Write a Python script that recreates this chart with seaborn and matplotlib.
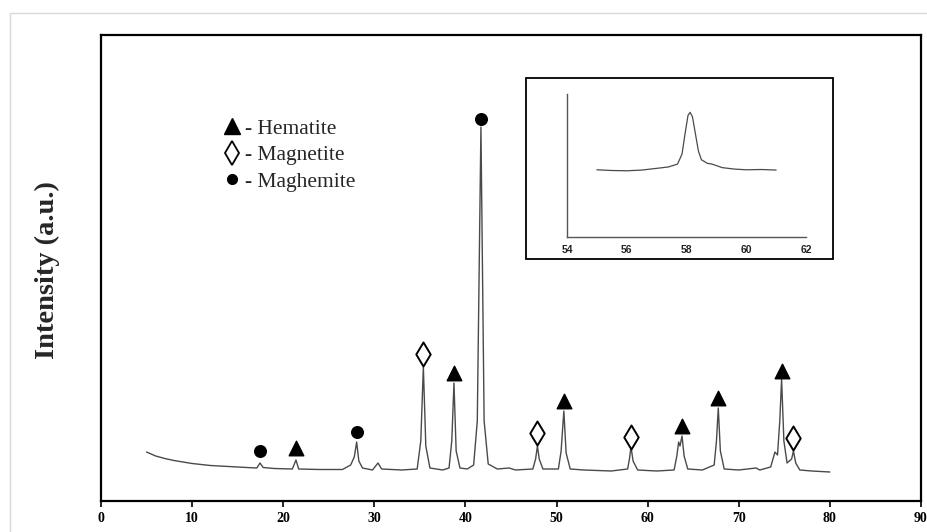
import numpy as np
import pandas as pd
import matplotlib
matplotlib.use("Agg")
import matplotlib.pyplot as plt
from matplotlib.lines import Line2D
from matplotlib.patches import Rectangle
import seaborn as sns

# ---------------- data ----------------
two_theta = [5.0, 6.0, 7.0, 8.0, 10.0, 12.0, 14.0, 16.0, 17.1, 17.45, 17.8, 19.0,
             21.0, 21.4, 21.7, 24.0, 26.5, 27.4, 27.8, 28.06, 28.3, 28.7, 29.8,
             30.4, 30.8, 33.0, 34.7, 35.1, 35.38, 35.65, 36.1, 37.5, 38.2, 38.5,
             38.74, 38.98, 39.4, 40.2, 40.9, 41.3, 41.7, 42.05, 42.5, 43.5, 44.8,
             45.5, 47.4, 47.7, 47.9, 48.1, 48.5, 50.2, 50.5, 50.8, 51.05, 51.5,
             53.0, 56.0, 57.8, 58.0, 58.17, 58.4, 58.9, 61.0, 62.9, 63.2, 63.4,
             63.55, 63.77, 64.0, 64.4, 66.0, 67.3, 67.55, 67.75, 67.98, 68.4,
             70.0, 71.9, 72.3, 73.5, 73.97, 74.25, 74.5, 74.7, 74.95, 75.3, 75.8,
             76.0, 76.25, 76.7, 78.0, 80.0]
intensity = [49, 45, 42.5, 40.5, 37.5, 35.5, 34.5, 33.5, 33, 38, 33.5, 32.5,
             32, 41, 32, 31.5, 31.5, 36, 44, 59, 40, 33, 31,
             38, 32, 31, 32, 60, 134, 55, 33, 31, 33, 60,
             118, 50, 33, 32, 36, 80, 374, 80, 37, 32, 33,
             31, 32, 42, 55, 42, 32, 32, 50, 90, 48, 32,
             31, 30, 32, 42, 54, 40, 31, 30, 31, 45, 59,
             55, 65, 45, 32, 31, 36, 60, 93, 50, 32,
             31, 33, 31, 34, 49, 46, 80, 122, 60, 38, 42,
             50, 38, 31, 30, 29]

hematite_x = [21.4, 38.74, 50.8, 63.77, 67.75, 74.7]
hematite_y = [53, 128, 100, 75, 103, 130]
magnetite_x = [35.38, 47.9, 58.17, 76.0]
magnetite_y = [147, 68, 64, 63]
maghemite_x = [17.45, 28.06, 41.7]
maghemite_y = [50, 69, 382]

inset_x = [55.0, 55.5, 56.0, 56.5, 57.0, 57.4, 57.7, 57.85, 57.95, 58.05, 58.12,
           58.2, 58.3, 58.4, 58.5, 58.7, 58.85, 59.2, 59.6, 60.0, 60.5, 61.0]
inset_y = [0.47, 0.465, 0.463, 0.468, 0.48, 0.49, 0.51, 0.58, 0.72, 0.85, 0.872,
           0.84, 0.72, 0.60, 0.54, 0.515, 0.51, 0.485, 0.475, 0.47, 0.472, 0.468]

x_ticks = [0, 10, 20, 30, 40, 50, 60, 70, 80, 90]
inset_ticks = [54, 56, 58, 60, 62]
legend_labels = ["- Hematite", "- Magnetite", "- Maghemite"]
y_label = "Intensity (a.u.)"

# ---------------- figure ----------------
sns.set_style("white")
plt.rcParams["font.family"] = ["Liberation Serif", "DejaVu Serif"]

W, H = 927, 532
fig = plt.figure(figsize=(W / 100, H / 100), dpi=100)

# light page border
fig.patches.append(Rectangle((10 / W, -0.05), 1.2, 1 - 13 / H + 0.05,
                             transform=fig.transFigure, fill=False,
                             edgecolor="#d9d9d9", lw=1.0, zorder=0))

ax = fig.add_axes([101 / W, 1 - 501 / H, (921 - 101) / W, (501 - 35) / H])
df = pd.DataFrame({"two_theta": two_theta, "intensity": intensity})
sns.lineplot(data=df, x="two_theta", y="intensity", ax=ax, color="#4a4a4a",
             lw=1.0, estimator=None, sort=False)

ax.scatter(hematite_x, hematite_y, marker="^", s=110, color="black", zorder=3)
ax.scatter(magnetite_x, magnetite_y, marker="d", s=150, facecolor="white",
           edgecolor="black", linewidths=1.4, zorder=3)
ax.scatter(maghemite_x, maghemite_y, marker="o", s=70, color="black", zorder=3)

ax.set_xlim(0, 90)
ax.set_ylim(0, 466)
ax.set_xticks(x_ticks)
ax.set_xticklabels([str(t) for t in x_ticks], fontweight="bold", fontsize=10)
ax.set_yticks([])
ax.set_xlabel("")
ax.set_ylabel("")
ax.tick_params(axis="x", direction="out", length=4, width=1.2, pad=4,
               bottom=True, colors="black")
for s in ax.spines.values():
    s.set_linewidth(1.6)
    s.set_color("black")

fig.text(47 / W, 1 - 270 / H, y_label, rotation=90, ha="center", va="center",
         fontsize=20.5, fontweight="bold")

handles = [Line2D([], [], marker="^", ls="", color="black", ms=11),
           Line2D([], [], marker="d", ls="", markerfacecolor="white",
                  markeredgecolor="black", markeredgewidth=1.3, ms=12),
           Line2D([], [], marker="o", ls="", color="black", ms=7)]
ax.legend(handles, legend_labels, loc="upper left",
          bbox_to_anchor=((212 - 101) / (921 - 101), (501 - 108) / 466),
          frameon=False, handlelength=0.9, handletextpad=0.15,
          labelspacing=0.3, borderpad=0, prop={"size": 15.5})

# inset frame
fig.patches.append(Rectangle((526 / W, 1 - 259 / H), (833 - 526) / W, (259 - 78) / H,
                             transform=fig.transFigure, fill=False,
                             edgecolor="black", lw=1.3, zorder=5))
axi = fig.add_axes([567 / W, 1 - 237 / H, (806 - 567) / W, (237 - 94) / H])
sns.lineplot(x=inset_x, y=inset_y, ax=axi, color="#4a4a4a", lw=0.9,
             estimator=None, sort=False)
axi.set_xlim(54, 62)
axi.set_ylim(0, 1)
axi.set_xticks(inset_ticks)
axi.set_xticklabels([str(t) for t in inset_ticks],
                    fontfamily="Liberation Sans", fontweight="bold", fontsize=7.5,
                    color="#222222")
axi.set_yticks([])
axi.tick_params(axis="x", length=0, pad=6)
axi.patch.set_alpha(0)
for k in ["top", "right"]:
    axi.spines[k].set_visible(False)
for k in ["left", "bottom"]:
    axi.spines[k].set_color("#555555")
    axi.spines[k].set_linewidth(1.0)

fig.savefig("out.png", dpi=100)
